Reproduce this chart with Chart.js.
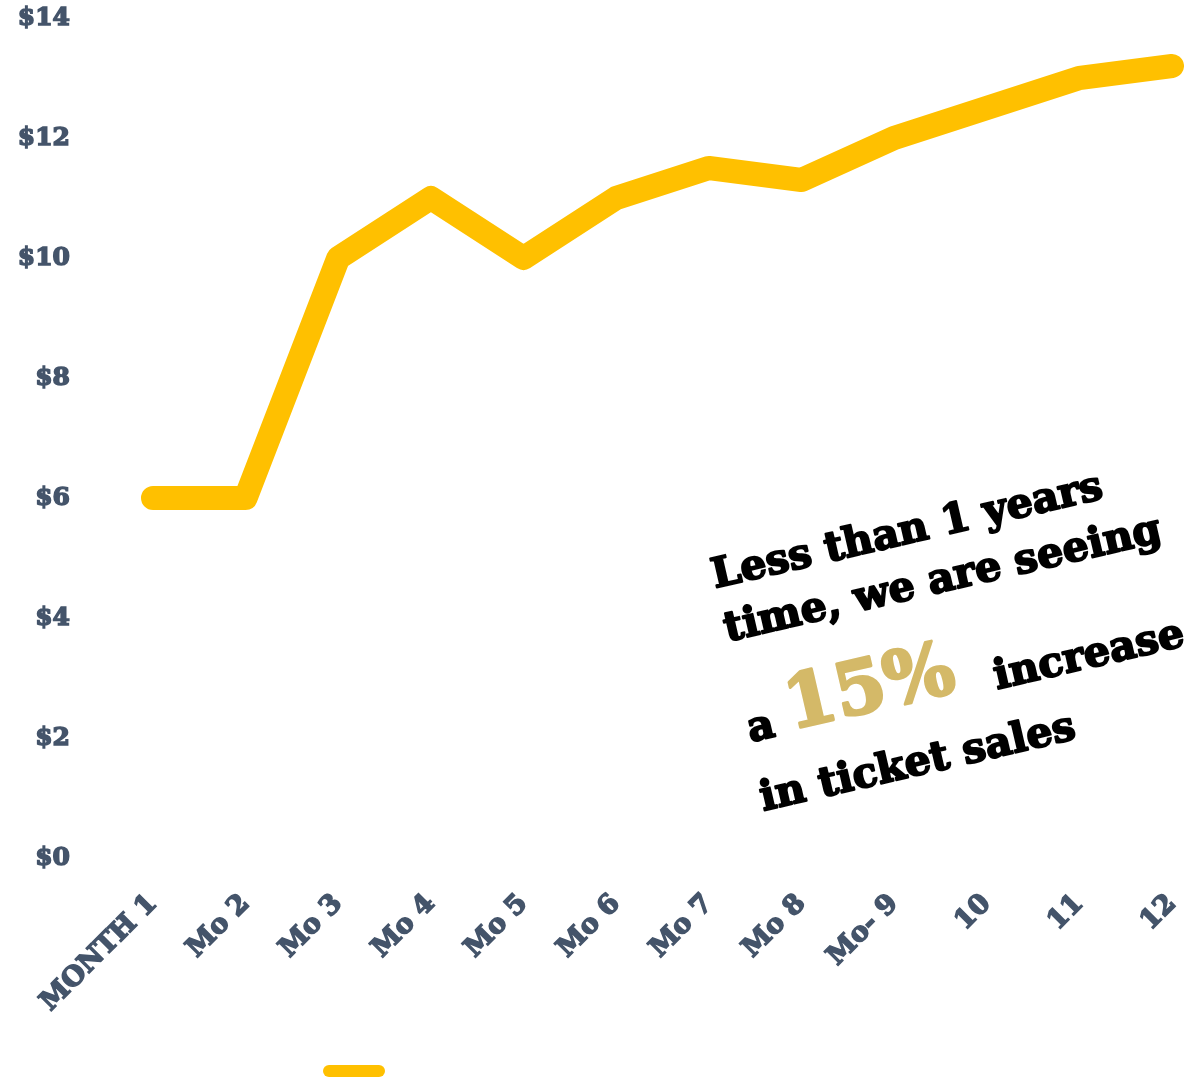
<!DOCTYPE html>
<html>
<head>
<meta charset="utf-8">
<script src="https://cdn.jsdelivr.net/npm/chart.js@4.4.1/dist/chart.umd.min.js"></script>
<style>
  body { margin: 0; background: #fff; }
  #wrap { position: relative; width: 1198px; height: 1083px; }
  #legendBar {
    position: absolute; left: 323px; top: 1065px;
    width: 62px; height: 12px; border-radius: 6px; background: #FFC000;
  }
</style>
</head>
<body>
<div id="wrap">
  <canvas id="chartjs-0"></canvas>
  <div id="legendBar"></div>
</div>
<script>
var months = ["MONTH 1", "Mo 2", "Mo 3", "Mo 4", "Mo 5", "Mo 6", "Mo 7", "Mo 8", "Mo- 9", "10", "11", "12"];
var ticketPrice = [6.0, 6.0, 10.0, 11.0, 10.0, 11.0, 11.5, 11.3, 12.0, 12.5, 13.0, 13.2];
var yMin = 0;
var yMax = 14;
var yStep = 2;

var noteLine1 = "Less than 1 years";
var noteLine2 = "time, we are seeing";
var noteLead = "a";
var noteBig = "15%";
var noteTail = "increase";
var noteLine4 = "in ticket sales";

var fontName = '"DejaVu Serif", serif';
var axisColor = "#44546A";
var lineColor = "#FFC000";
var goldColor = "#D4B968";

function fitSize(ctx, text, width) {
  ctx.font = "bold 40px " + fontName;
  return 40 * width / ctx.measureText(text).width;
}

// heavy text: fill plus a thin stroke in the same colour
function heavyText(ctx, text, x, y, w) {
  ctx.lineWidth = w;
  ctx.lineJoin = "round";
  ctx.strokeText(text, x, y);
  ctx.fillText(text, x, y);
}

var notePlugin = {
  id: "note",
  afterDraw: function (chart) {
    var ctx = chart.ctx;
    ctx.save();
    var size = fitSize(ctx, noteLine1, 400);
    var bigSize = fitSize(ctx, noteBig, 172);
    ctx.translate(715, 588);
    ctx.rotate(-13 * Math.PI / 180);
    ctx.textBaseline = "alphabetic";
    ctx.textAlign = "left";
    ctx.fillStyle = "#000";
    ctx.strokeStyle = "#000";
    ctx.font = "bold " + size + "px " + fontName;
    heavyText(ctx, noteLine1, 0, 0, 2);
    heavyText(ctx, noteLine2, 0, 55, 2);
    heavyText(ctx, noteLead, 0, 158, 2);
    heavyText(ctx, noteTail, 252, 162, 2);
    heavyText(ctx, noteLine4, -3, 228, 2);
    ctx.fillStyle = goldColor;
    ctx.strokeStyle = goldColor;
    ctx.font = "bold " + bigSize + "px " + fontName;
    heavyText(ctx, noteBig, 42, 155, 3);
    ctx.restore();
  }
};

var ctx0 = document.getElementById("chartjs-0");
var myChart = new Chart(ctx0, {
  type: "line",
  data: {
    labels: months,
    datasets: [
      {
        label: "",
        data: ticketPrice,
        fill: false,
        borderColor: lineColor,
        backgroundColor: lineColor,
        borderWidth: 24,
        borderCapStyle: "round",
        borderJoinStyle: "round",
        pointRadius: 0,
        pointHoverRadius: 0,
        tension: 0
      }
    ]
  },
  options: {
    responsive: true,
    maintainAspectRatio: false,
    animation: false,
    layout: { padding: { left: 13, right: 26, top: 18, bottom: 0 } },
    plugins: {
      legend: { display: false },
      tooltip: { enabled: false }
    },
    scales: {
      x: {
        grid: { display: false, drawTicks: false },
        border: { display: false },
        ticks: {
          color: axisColor,
          textStrokeColor: axisColor,
          textStrokeWidth: 1.5,
          font: { family: fontName, size: 27, weight: "bold" },
          minRotation: 45,
          maxRotation: 45,
          autoSkip: false,
          padding: 30
        },
        afterFit: function (scale) {
          scale.height = 225;
          scale.paddingLeft = 0;
          scale.paddingRight = 0;
        }
      },
      y: {
        min: yMin,
        max: yMax,
        grid: { display: false, drawTicks: false },
        border: { display: false },
        ticks: {
          stepSize: yStep,
          color: axisColor,
          textStrokeColor: axisColor,
          textStrokeWidth: 1.5,
          font: { family: fontName, size: 25, weight: "bold" },
          padding: 83,
          callback: function (v) { return "$" + v; }
        },
        afterFit: function (scale) {
          scale.width = 140;
          scale.paddingTop = 0;
          scale.paddingBottom = 0;
        }
      }
    }
  },
  plugins: [notePlugin]
});
</script>
</body>
</html>
